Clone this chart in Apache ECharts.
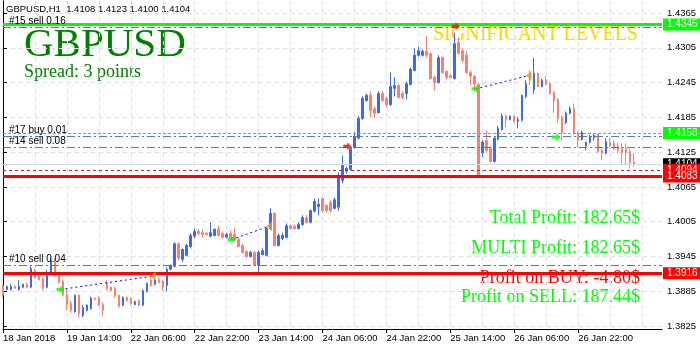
<!DOCTYPE html>
<html><head><meta charset="utf-8">
<script src="https://cdn.jsdelivr.net/npm/echarts@6/dist/echarts.min.js"></script>
<style>html,body{margin:0;padding:0;background:#fff}#c{width:700px;height:350px}</style>
</head><body><div id="c"></div>
<script>
// ---------- data ----------
const tickLabels = ['18 Jan 2018','19 Jan 14:00','22 Jan 06:00','22 Jan 22:00','23 Jan 14:00','24 Jan 06:00','24 Jan 22:00','25 Jan 14:00','26 Jan 06:00','26 Jan 22:00'];
const yTicks = [1.3825,1.3885,1.3945,1.4005,1.4065,1.4125,1.4185,1.4245,1.4305,1.4365];

const openP = [1.3895,1.3888,1.3888,1.3893,1.3888,1.3892,1.3897,1.3892,1.3921,1.3911,
1.3907,1.3892,1.3917,1.3935,1.3912,1.3902,1.3879,1.3864,1.3850,1.3878,
1.3843,1.3852,1.3855,1.3873,1.3873,1.3862,1.3900,1.3892,1.3890,1.3878,
1.3861,1.3874,1.3873,1.3862,1.3869,1.3861,1.3885,1.3904,1.3897,1.3905,
1.3902,1.3895,1.3923,1.3928,1.3967,1.3940,1.3947,1.3962,1.3980,1.3988,
1.3986,1.3985,1.3980,1.3981,1.3992,1.3985,1.3978,1.3985,1.3983,1.3974,
1.3964,1.3954,1.3945,1.3952,1.3930,1.3948,1.3947,1.3993,1.4019,1.3964,
1.3976,1.3978,1.3998,1.3997,1.3993,1.4000,1.4012,1.4004,1.4023,1.4031,
1.4045,1.4033,1.4038,1.4028,1.4030,1.4076,1.4092,1.4095,1.4133,1.4149,
1.4183,1.4214,1.4223,1.4200,1.4193,1.4226,1.4218,1.4207,1.4235,1.4240,
1.4226,1.4226,1.4242,1.4266,1.4292,1.4292,1.4299,1.4295,1.4254,1.4245,
1.4288,1.4264,1.4257,1.4252,1.4314,1.4300,1.4292,1.4262,1.4256,1.4242,
1.4124,1.4145,1.4131,1.4109,1.4147,1.4164,1.4187,1.4181,1.4187,1.4178,
1.4180,1.4221,1.4261,1.4233,1.4261,1.4238,1.4250,1.4243,1.4228,1.4216,
1.4185,1.4176,1.4192,1.4200,1.4157,1.4147,1.4136,1.4142,1.4150,1.4155,
1.4128,1.4123,1.4142,1.4140,1.4135,1.4131,1.4131,1.4126,1.4108];
const highP = [1.3897,1.3895,1.3897,1.3895,1.3904,1.3898,1.3900,1.3928,1.3924,1.3914,
1.3909,1.3921,1.3943,1.3942,1.3916,1.3905,1.3888,1.3869,1.3879,1.3879,
1.3861,1.3862,1.3876,1.3874,1.3876,1.3866,1.3904,1.3893,1.3892,1.3879,
1.3876,1.3876,1.3874,1.3869,1.3871,1.3888,1.3900,1.3909,1.3907,1.3909,
1.3905,1.3926,1.3931,1.3969,1.3969,1.3959,1.3967,1.3985,1.3993,1.3992,
1.3992,1.3986,1.4004,1.3993,1.3998,1.3988,1.3986,1.3990,1.3995,1.3978,
1.3967,1.3955,1.3955,1.3954,1.3955,1.3959,1.3995,1.4028,1.4021,1.3985,
1.3986,1.4002,1.4000,1.4000,1.4004,1.4016,1.4016,1.4026,1.4045,1.4045,
1.4047,1.4035,1.4042,1.4047,1.4090,1.4119,1.4100,1.4135,1.4159,1.4187,
1.4221,1.4226,1.4230,1.4204,1.4230,1.4230,1.4221,1.4262,1.4254,1.4243,
1.4230,1.4247,1.4271,1.4304,1.4307,1.4302,1.4326,1.4297,1.4257,1.4292,
1.4290,1.4266,1.4259,1.4331,1.4323,1.4304,1.4300,1.4266,1.4257,1.4243,
1.4145,1.4162,1.4135,1.4152,1.4170,1.4192,1.4190,1.4188,1.4188,1.4185,
1.4224,1.4249,1.4266,1.4288,1.4262,1.4252,1.4256,1.4245,1.4230,1.4218,
1.4188,1.4195,1.4204,1.4209,1.4161,1.4162,1.4143,1.4155,1.4157,1.4157,
1.4130,1.4149,1.4149,1.4145,1.4142,1.4140,1.4140,1.4131,1.4123];
const lowP = [1.3874,1.3886,1.3886,1.3890,1.3886,1.3890,1.3890,1.3890,1.3907,1.3904,
1.3886,1.3890,1.3916,1.3911,1.3898,1.3876,1.3852,1.3848,1.3848,1.3840,
1.3840,1.3850,1.3853,1.3869,1.3859,1.3843,1.3886,1.3885,1.3874,1.3857,
1.3859,1.3867,1.3862,1.3861,1.3859,1.3859,1.3883,1.3893,1.3895,1.3898,
1.3886,1.3885,1.3921,1.3926,1.3938,1.3935,1.3945,1.3959,1.3976,1.3981,
1.3978,1.3981,1.3978,1.3980,1.3980,1.3976,1.3976,1.3974,1.3971,1.3961,
1.3950,1.3942,1.3943,1.3928,1.3917,1.3947,1.3945,1.3990,1.3962,1.3962,
1.3973,1.3976,1.3992,1.3992,1.3992,1.3998,1.4002,1.4002,1.4021,1.4016,
1.4021,1.4021,1.4021,1.4026,1.4024,1.4071,1.4088,1.4093,1.4131,1.4147,
1.4181,1.4212,1.4185,1.4185,1.4192,1.4212,1.4202,1.4205,1.4221,1.4218,
1.4216,1.4216,1.4240,1.4264,1.4290,1.4290,1.4288,1.4250,1.4231,1.4243,
1.4261,1.4250,1.4252,1.4250,1.4293,1.4280,1.4261,1.4240,1.4231,1.4080,
1.4116,1.4124,1.4107,1.4107,1.4145,1.4162,1.4168,1.4180,1.4176,1.4166,
1.4178,1.4218,1.4240,1.4226,1.4237,1.4237,1.4240,1.4224,1.4193,1.4176,
1.4145,1.4173,1.4190,1.4155,1.4133,1.4145,1.4128,1.4140,1.4145,1.4124,
1.4111,1.4121,1.4133,1.4128,1.4123,1.4105,1.4102,1.4097,1.4100];
const closeP = [1.3878,1.3893,1.3893,1.3890,1.3893,1.3897,1.3892,1.3924,1.3909,1.3905,
1.3890,1.3917,1.3938,1.3912,1.3900,1.3879,1.3862,1.3852,1.3878,1.3847,
1.3857,1.3861,1.3873,1.3871,1.3861,1.3852,1.3890,1.3886,1.3878,1.3859,
1.3874,1.3869,1.3864,1.3867,1.3861,1.3886,1.3898,1.3895,1.3904,1.3900,
1.3892,1.3923,1.3930,1.3967,1.3942,1.3957,1.3964,1.3981,1.3988,1.3985,
1.3983,1.3983,1.3986,1.3992,1.3981,1.3978,1.3983,1.3976,1.3973,1.3962,
1.3952,1.3945,1.3952,1.3930,1.3952,1.3955,1.3993,1.4019,1.3964,1.3981,
1.3981,1.3998,1.3993,1.3993,1.4000,1.4012,1.4004,1.4024,1.4040,1.4035,
1.4024,1.4024,1.4024,1.4043,1.4085,1.4102,1.4097,1.4131,1.4152,1.4183,
1.4218,1.4223,1.4197,1.4192,1.4226,1.4214,1.4207,1.4238,1.4240,1.4219,
1.4219,1.4243,1.4268,1.4292,1.4300,1.4299,1.4292,1.4252,1.4245,1.4288,
1.4262,1.4254,1.4254,1.4312,1.4295,1.4283,1.4262,1.4256,1.4243,1.4085,
1.4142,1.4128,1.4109,1.4149,1.4166,1.4187,1.4181,1.4187,1.4178,1.4181,
1.4223,1.4243,1.4249,1.4261,1.4238,1.4249,1.4242,1.4226,1.4214,1.4183,
1.4159,1.4192,1.4200,1.4157,1.4145,1.4159,1.4142,1.4152,1.4154,1.4126,
1.4123,1.4143,1.4136,1.4131,1.4128,1.4124,1.4124,1.4107,1.4104];

// horizontal levels
const levelPrices = [1.4345, 1.4341, 1.4158, 1.4152, 1.4134, 1.4104, 1.4094, 1.4083, 1.3929, 1.3916];
const levelTags   = ['1.4345', null, '1.4158', null, null, '1.4104', '1.4094', '1.4083', null, '1.3916'];
const orderNames  = [null, '#15 sell 0.16', null, '#17 buy 0.01', '#14 sell 0.08', null, null, null, '#10 sell 0.04', null];

// trades (bar position, price)
const tradeOpenBar   = [14.4, 57.2, 118.3];
const tradeOpenPrice = [1.3888, 1.3974, 1.4234];
const tradeCloseBar  = [37.5, 66.6, 131.6];
const tradeClosePrice= [1.3911, 1.3997, 1.4257];
const entryBar   = [86.2, 113.3, 138.5];
const entryPrice = [1.4135, 1.4342, 1.4151];
const entryKind  = ['sell', 'sell', 'buy'];

const nSlots = 166;
// ---------- build ----------
const months = ['Jan','Feb','Mar','Apr','May','Jun','Jul','Aug','Sep','Oct','Nov','Dec'];
const categories = [];
let t = Date.UTC(2018,0,18,22);
while (categories.length < nSlots) {
  const d = new Date(t); const wd = d.getUTCDay();
  if (wd !== 0 && wd !== 6) {
    categories.push(d.getUTCDate() + ' ' + months[d.getUTCMonth()] + ' ' + String(d.getUTCHours()).padStart(2,'0') + ':00');
  }
  t += 3600000;
}
const candles = openP.map((o,i) => [o, closeP[i], lowP[i], highP[i]]);

const SANS = "'Liberation Sans', Arial, sans-serif";
const SERIF = "'Liberation Serif', 'Times New Roman', serif";
const RED = '#ff0000', LIME = '#00ff00', STEEL = '#4682b4';
const Y_MIN = 1.38198, Y_MAX = 1.43857;

function levelStyle(i){
  if (i === 0) return {color: LIME, width: 3, type: 'solid'};
  if (i === 2) return {color: LIME, width: 1, type: [3,2]};
  if (i === 5) return {color: '#d4d4ec', width: 1, type: 'solid'};
  if (i === 6) return {color: '#d42020', width: 1, type: [3,3]};
  if (i === 7 || i === 9) return {color: RED, width: 3, type: 'solid'};
  return {color: STEEL, width: 1, type: [8,3,2,3]};
}
function tagColor(i){
  if (i === 0 || i === 2) return LIME;
  if (i === 5) return '#000';
  return RED;
}
const markData = levelPrices.map((p,i) => {
  const item = {yAxis: p, lineStyle: levelStyle(i)};
  if (levelTags[i]) {
    item.label = {show: true, position: 'end', distance: 1, formatter: levelTags[i],
      backgroundColor: tagColor(i), color: '#fff', fontFamily: SANS, fontSize: 10,
      padding: [1, 5, 0, 4], lineHeight: 11};
  } else if (orderNames[i]) {
    item.label = {show: true, position: 'insideStartTop', distance: 1, formatter: orderNames[i],
      color: '#000', fontFamily: SANS, fontSize: 10, padding: [0,0,0,5]};
  } else {
    item.label = {show: false};
  }
  return item;
});

const arrowPath = 'path://M0,3 L5,3 L5,0 L10,5 L5,10 L5,7 L0,7 Z';
const closePath = 'path://M10,0 L10,10 L0,5 Z';

const series = [{
  type: 'line', xAxisIndex: 1, yAxisIndex: 0, data: [], silent: true, z: 2,
  markLine: {silent: true, precision: 4, symbol: ['none','none'], animation: false, data: markData}
}, {
  type: 'candlestick',
  xAxisIndex: 0, yAxisIndex: 0,
  data: candles,
  barWidth: 2,
  itemStyle: {color: '#4169e1', color0: '#fa8072', borderColor: '#4169e1', borderColor0: '#fa8072', borderWidth: 1},
  z: 3
}];
tradeOpenBar.forEach((b,i) => {
  series.push({
    type: 'line', xAxisIndex: 1, yAxisIndex: 0, silent: true, z: 4,
    data: [[b, tradeOpenPrice[i]], [tradeCloseBar[i], tradeClosePrice[i]]],
    showSymbol: false, symbol: 'none',
    lineStyle: {color: '#0000ff', width: 1, type: [2,3]}
  });
});
series.push({
  type: 'scatter', xAxisIndex: 1, yAxisIndex: 0, silent: true, z: 5,
  data: tradeOpenBar.map((b,i) => ({value: [b, tradeOpenPrice[i]], symbol: arrowPath, symbolSize: [8,8], itemStyle: {color: LIME}}))
    .concat(tradeCloseBar.map((b,i) => ({value: [b, tradeClosePrice[i]], symbol: closePath, symbolSize: [6,9], itemStyle: {color: '#daa520'}})))
    .concat(entryBar.map((b,i) => ({value: [b, entryPrice[i]], symbol: arrowPath, symbolSize: [8,8], itemStyle: {color: entryKind[i] === 'buy' ? LIME : RED}})))
});

const chart = echarts.init(document.getElementById('c'), null, {renderer: 'canvas'});
chart.setOption({
  animation: false,
  backgroundColor: '#fff',
  grid: {left: 3, right: 38, top: 1, bottom: 21, show: false},
  xAxis: [{
    type: 'category', data: categories, boundaryGap: false,
    axisLine: {show: true, lineStyle: {color: '#000'}},
    axisTick: {show: true, length: 4, lineStyle: {color: '#000'}, interval: (i) => i % 16 === 0 && i / 16 < tickLabels.length},
    axisLabel: {show: true, align: 'left', margin: 4, color: '#000', fontFamily: SANS, fontSize: 9.5,
      interval: (i) => i % 16 === 0 && i / 16 < tickLabels.length,
      formatter: (v, i) => tickLabels[i / 16] || ''},
    splitLine: {show: true, interval: (i) => i % 8 === 0, lineStyle: {color: '#dcdcf0', type: [4,4]}}
  }, {
    type: 'value', min: 0, max: nSlots - 1, show: false
  }],
  yAxis: [{
    type: 'value', position: 'right', min: Y_MIN, max: Y_MAX, scale: true,
    axisLine: {show: true, lineStyle: {color: '#000'}},
    axisTick: {show: true, length: 4, customValues: yTicks, lineStyle: {color: '#000'}},
    axisLabel: {show: true, customValues: yTicks, margin: 5, color: '#000', fontFamily: SANS, fontSize: 9.5, formatter: (v) => v.toFixed(4)},
    splitLine: {show: true, lineStyle: {color: '#dcdcf0', type: [4,4]}}
  }, {
    type: 'value', position: 'left', min: Y_MIN, max: Y_MAX, scale: true,
    axisLine: {show: true, onZero: false, lineStyle: {color: '#000'}},
    axisTick: {show: false}, axisLabel: {show: false}, splitLine: {show: false}
  }],
  series: series,
  graphic: [
    {type: 'text', left: 6, top: 4, style: {text: 'GBPUSD,H1  1.4108 1.4123 1.4100 1.4104', font: "9.5px " + SANS, fill: '#000'}},
    {type: 'text', x: 24, y: 45, style: {text: 'GBPUSD', font: "41px " + SERIF, fill: '#008000', textVerticalAlign: 'middle'}},
    {type: 'text', x: 24, y: 72, style: {text: 'Spread: 3 points', font: "18px " + SERIF, fill: '#008000', textVerticalAlign: 'middle'}},
    {type: 'text', x: 433, y: 35, style: {text: 'SIGNIFICANT LEVELS', font: "20px " + SERIF, fill: '#ffd700', textVerticalAlign: 'middle'}},
    {type: 'text', x: 640, y: 218, style: {text: 'Total Profit: 182.65$', font: "18px " + SERIF, fill: LIME, textAlign: 'right', textVerticalAlign: 'middle'}},
    {type: 'text', x: 640, y: 248, style: {text: 'MULTI Profit: 182.65$', font: "18px " + SERIF, fill: LIME, textAlign: 'right', textVerticalAlign: 'middle'}},
    {type: 'text', x: 640, y: 278, style: {text: 'Profit on BUY: -4.80$', font: "18px " + SERIF, fill: RED, textAlign: 'right', textVerticalAlign: 'middle'}},
    {type: 'text', x: 640, y: 297, style: {text: 'Profit on SELL: 187.44$', font: "18px " + SERIF, fill: LIME, textAlign: 'right', textVerticalAlign: 'middle'}}
  ]
});
</script>
</body></html>
